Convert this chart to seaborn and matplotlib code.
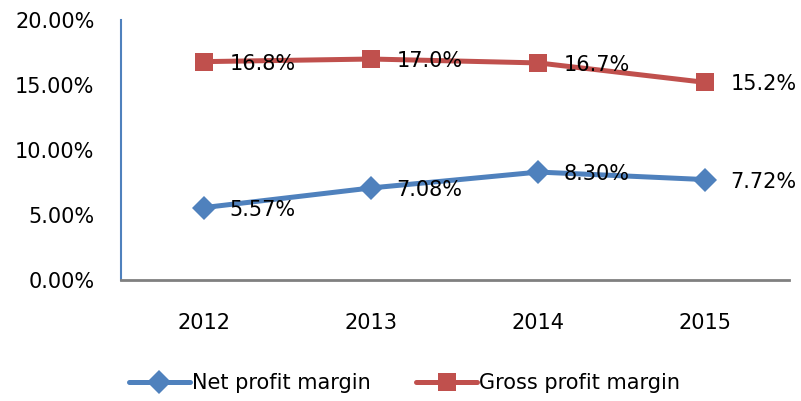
import matplotlib
matplotlib.use("Agg")
import matplotlib.pyplot as plt
import seaborn as sns
import pandas as pd
from matplotlib.ticker import FuncFormatter

years = ["2012", "2013", "2014", "2015"]
net_margin = [5.57, 7.08, 8.30, 7.72]
gross_margin = [16.8, 17.0, 16.7, 15.2]
net_labels = ["5.57%", "7.08%", "8.30%", "7.72%"]
gross_labels = ["16.8%", "17.0%", "16.7%", "15.2%"]
series_names = ["Net profit margin", "Gross profit margin"]

df = pd.DataFrame({
    "year": years * 2,
    "value": net_margin + gross_margin,
    "series": [series_names[0]] * 4 + [series_names[1]] * 4,
})

sns.set_theme(style="white")
plt.rcParams['font.family'] = ['DejaVu Sans']
plt.rcParams['text.color'] = 'black'

blue = "#4F81BD"
red = "#C0504D"

fig = plt.figure(figsize=(8.01, 4.01), dpi=100)
ax = fig.add_axes([0.151, 0.302, 0.834, 0.648])

sns.lineplot(data=df, x="year", y="value", hue="series", style="series",
             palette={series_names[0]: blue, series_names[1]: red},
             markers={series_names[0]: "D", series_names[1]: "s"},
             dashes=False, linewidth=3.6, markersize=12, markeredgewidth=0,
             sort=False, ax=ax)

for line in ax.get_lines():
    if line.get_marker() == "s":
        line.set_markersize(13.5)

ax.set_xlim(-0.5, 3.5)
ax.set_ylim(0, 20)
ax.set_yticks([0, 5, 10, 15, 20])
ax.yaxis.set_major_formatter(FuncFormatter(lambda v, p: f"{v:.2f}%"))
ax.set_xlabel("")
ax.set_ylabel("")
ax.tick_params(axis="both", length=0, labelsize=15, colors="black")
ax.tick_params(axis="y", pad=19)
ax.tick_params(axis="x", pad=24)
ax.grid(False)

for s in ["top", "right"]:
    ax.spines[s].set_visible(False)
ax.spines["left"].set_color(blue)
ax.spines["left"].set_linewidth(1.5)
ax.spines["bottom"].set_color("#808080")
ax.spines["bottom"].set_linewidth(2)

for i, (v, lab) in enumerate(zip(net_margin, net_labels)):
    ax.annotate(lab, (i, v), xytext=(25, -2), textcoords="offset pixels",
                ha="left", va="center", fontsize=15, color="black")
for i, (v, lab) in enumerate(zip(gross_margin, gross_labels)):
    ax.annotate(lab, (i, v), xytext=(25, -2), textcoords="offset pixels",
                ha="left", va="center", fontsize=15, color="black")

handles, labels = ax.get_legend_handles_labels()
ax.get_legend().remove()
leg = fig.legend(handles, labels, loc="center", bbox_to_anchor=(0.505, 1 - 383 / 401),
                 ncol=2, frameon=False, fontsize=15, handlelength=2.9,
                 handletextpad=0.1, columnspacing=2.2)
for t in leg.get_texts():
    t.set_color("black")

fig.savefig("out.png", dpi=100)
